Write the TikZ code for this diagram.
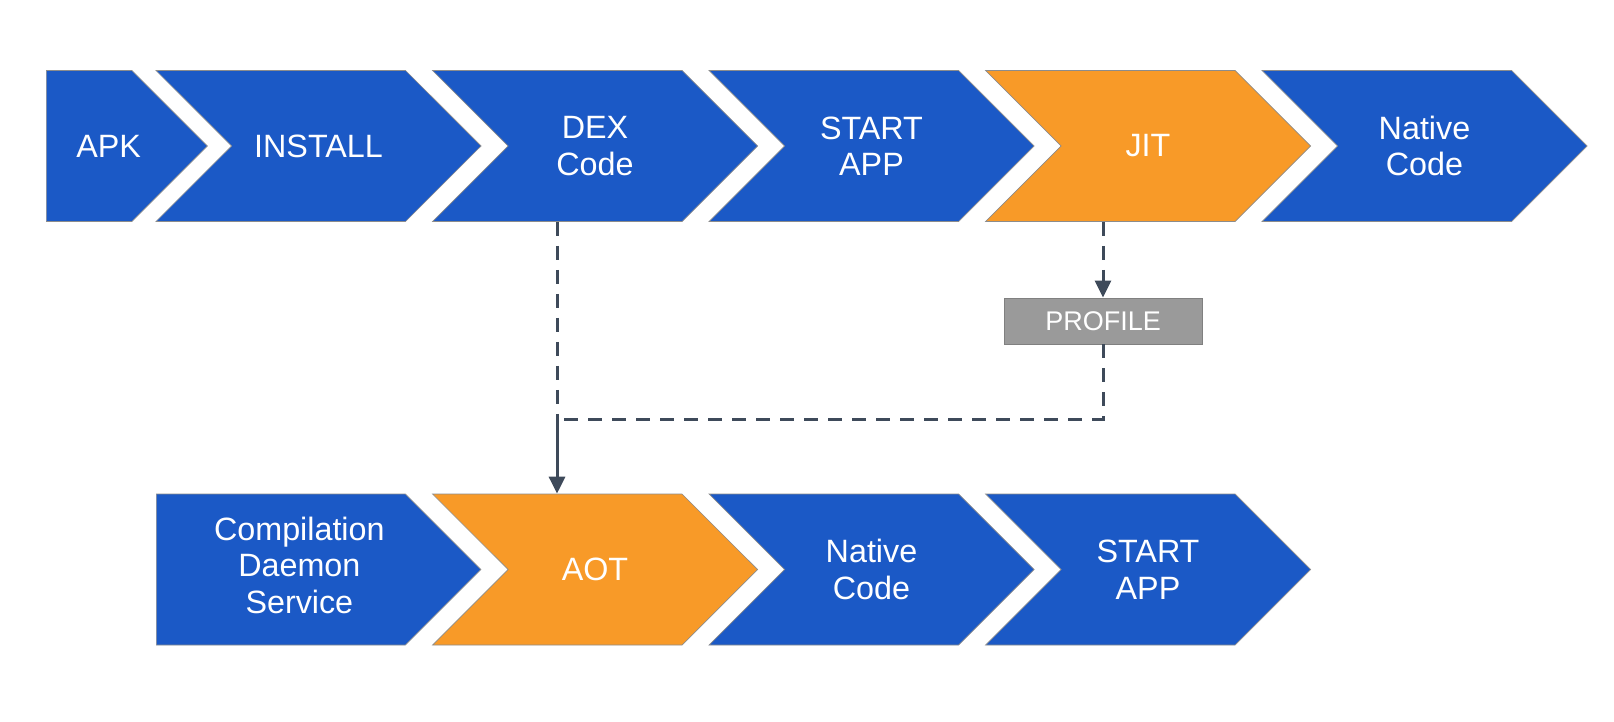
\documentclass[tikz,border=0pt]{standalone}
\usepackage{fontspec}
\setmainfont{Liberation Sans}
\usetikzlibrary{shapes.symbols,arrows.meta}
\definecolor{stepblue}{HTML}{1B59C6}
\definecolor{steporange}{HTML}{F89A28}
\definecolor{profilegray}{HTML}{9A9A9A}
\definecolor{flowline}{HTML}{3E4A5A}
\tikzset{
  chev/.style={signal, signal from=west, signal to=east, signal pointer angle=90,
    fill=stepblue, draw=black!45, line width=0.7pt, text=white, align=center,
    minimum width=325pt, minimum height=151pt, inner sep=0pt,
    font=\fontsize{32.3}{36.5}\selectfont},
  flatchev/.style={chev, signal from=nowhere, minimum width=0pt, anchor=west},
  hot/.style={fill=steporange},
  flow/.style={draw=flowline, line width=3pt},
  dashflow/.style={flow, dash pattern=on 14pt off 10pt},
  tip/.style={-{Triangle[length=17pt,width=16pt]}}
}
\begin{document}
\begin{tikzpicture}[x=1pt,y=-1pt]
  \useasboundingbox (0,0) rectangle (1614,722);
  % upper row
  \node[flatchev] (apk) at (46,146) {\makebox[85.5pt]{\hspace*{39pt}APK}};
  \node[chev] (install) at (318.5,146) {INSTALL};
  \node[chev] (dex) at (595,146) {DEX\\Code};
  \node[chev] (start) at (871.5,146) {START\\APP};
  \node[chev, hot] (jit) at (1148,146) {JIT};
  \node[chev] (native) at (1424.5,146) {Native\\Code};
  % profile
  \node[fill=profilegray, draw=black!50, line width=0.8pt, text=white,
    minimum width=198pt, minimum height=46pt, inner sep=0pt,
    font=\fontsize{27}{30}\selectfont] (profile) at (1103,321) {PROFILE};
  % lower row
  \node[flatchev] (daemon) at (156,569.5)
    {\makebox[249pt]{\hspace*{37pt}\begin{tabular}{@{}c@{}}Compilation\\Daemon\\Service\end{tabular}}};
  \node[chev, hot] (aot) at (595,569.5) {AOT};
  \node[chev] (native2) at (871.5,569.5) {Native\\Code};
  \node[chev] (start2) at (1148,569.5) {START\\APP};
  % connectors
  \coordinate (merge) at (557,419);
  \draw[dashflow] ([xshift=-38pt]dex.south) -- (merge);
  \draw[dashflow, tip] (profile.north |- jit.south) -- (profile.north);
  \draw[dashflow] (profile.south) |- (merge);
  \draw[flow, tip] (merge) -- (merge |- aot.north);
\end{tikzpicture}
\end{document}
